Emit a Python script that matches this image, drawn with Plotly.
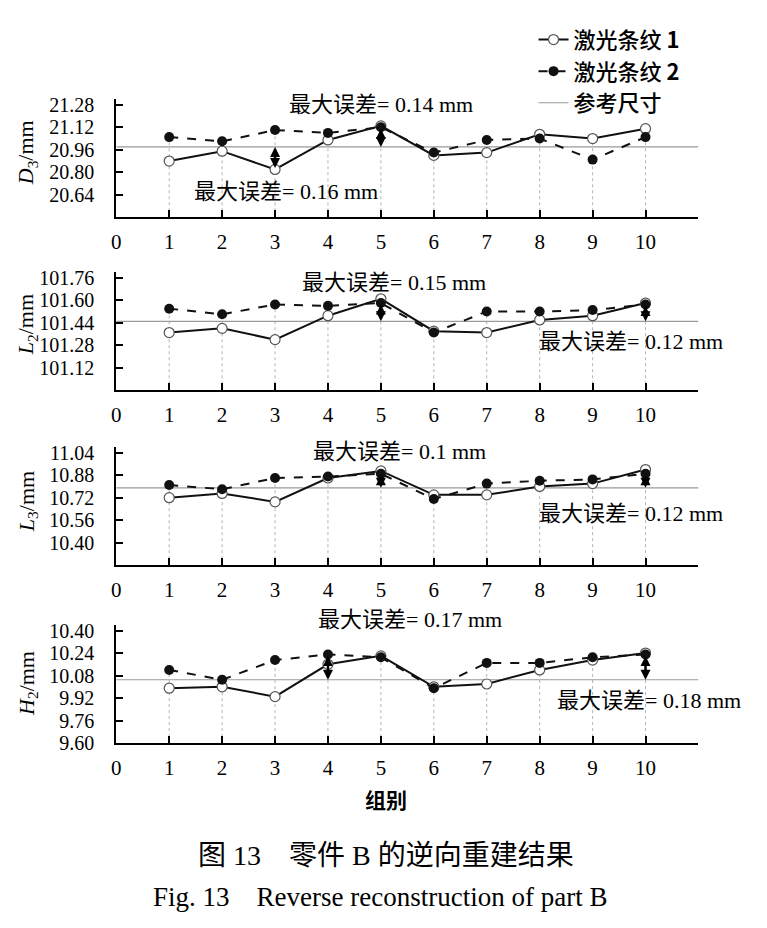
import plotly.graph_objects as go

# ---------------- data ----------------
groups = [1, 2, 3, 4, 5, 6, 7, 8, 9, 10]
x_ticks = [0, 1, 2, 3, 4, 5, 6, 7, 8, 9, 10]

# Panel 1: D3
d3_laser1 = [20.88, 20.95, 20.82, 21.03, 21.13, 20.92, 20.94, 21.07, 21.04, 21.11]
d3_laser2 = [21.05, 21.02, 21.10, 21.08, 21.12, 20.94, 21.03, 21.04, 20.89, 21.05]
d3_ref = 20.98
d3_ticks = [20.64, 20.80, 20.96, 21.12, 21.28]
d3_range = [20.48, 21.32]

# Panel 2: L2
l2_laser1 = [101.37, 101.40, 101.32, 101.49, 101.61, 101.38, 101.37, 101.46, 101.49, 101.58]
l2_laser2 = [101.54, 101.50, 101.57, 101.56, 101.58, 101.37, 101.52, 101.52, 101.53, 101.57]
l2_ref = 101.45
l2_ticks = [101.12, 101.28, 101.44, 101.60, 101.76]
l2_range = [100.96, 101.80]

# Panel 3: L3
l3_laser1 = [10.72, 10.75, 10.69, 10.86, 10.91, 10.74, 10.74, 10.80, 10.82, 10.92]
l3_laser2 = [10.81, 10.78, 10.86, 10.87, 10.89, 10.71, 10.82, 10.84, 10.85, 10.89]
l3_ref = 10.79
l3_ticks = [10.40, 10.56, 10.72, 10.88, 11.04]
l3_range = [10.24, 11.08]

# Panel 4: H2
h2_laser1 = [9.99, 10.00, 9.93, 10.16, 10.22, 10.00, 10.02, 10.12, 10.19, 10.24]
h2_laser2 = [10.12, 10.05, 10.19, 10.23, 10.21, 9.99, 10.17, 10.17, 10.21, 10.23]
h2_ref = 10.05
h2_ticks = [9.60, 9.76, 9.92, 10.08, 10.24, 10.40]
h2_range = [9.60, 10.44]

y_titles = ["<i>D</i><sub>3</sub>/mm", "<i>L</i><sub>2</sub>/mm",
            "<i>L</i><sub>3</sub>/mm", "<i>H</i><sub>2</sub>/mm"]

# (group, series) whose deviation from the reference is marked by an arrow
arrow_marks = [[(3, 1), (5, 2)], [(5, 2), (10, 2)], [(5, 2), (10, 2)], [(4, 2), (10, 2)]]
err_labels = [["最大误差= 0.14 mm", "最大误差= 0.16 mm"],
              ["最大误差= 0.15 mm", "最大误差= 0.12 mm"],
              ["最大误差= 0.1 mm", "最大误差= 0.12 mm"],
              ["最大误差= 0.17 mm", "最大误差= 0.18 mm"]]
legend_names = ["激光条纹 <b>1</b>", "激光条纹 <b>2</b>", "参考尺寸"]
x_title = "组别"
caption_cn = "图 13　零件 B 的逆向重建结果"
caption_en = "Fig. 13　Reverse reconstruction of part B"

panels = [
    (d3_laser1, d3_laser2, d3_ref, d3_ticks, d3_range),
    (l2_laser1, l2_laser2, l2_ref, l2_ticks, l2_range),
    (l3_laser1, l3_laser2, l3_ref, l3_ticks, l3_range),
    (h2_laser1, h2_laser2, h2_ref, h2_ticks, h2_range),
]

# ---------------- layout helpers ----------------
W, H = 767, 928
def px(x):
    return x / W
def py(y):
    return 1 - y / H

SERIF = "Liberation Serif, 'Times New Roman', 'Noto Sans CJK SC', serif"
CJK = "'Noto Sans CJK SC', 'Liberation Serif', sans-serif"

x_dom = [px(112), px(698)]
# (top px, bottom px) of each panel
panel_px = [(95.8, 216), (271.8, 392), (449.8, 570), (630.8, 751)]
err_label_pos = [[(378, 101), (283, 190)],
                 [(392, 282), (630, 342)],
                 [(397, 454), (630, 517)],
                 [(408, 625), (648, 708)]]
ytitle_y = [150, 325, 505, 690]

fig = go.Figure()
annotations = []
layout_axes = {}

for i, (s1, s2, ref, yt, yr) in enumerate(panels):
    n = i + 1
    xa = "x" if n == 1 else f"x{n}"
    ya = "y" if n == 1 else f"y{n}"
    show = (n == 1)

    # drop lines
    dx, dy = [], []
    for g, a, b in zip(groups, s1, s2):
        dx += [g, g, None]
        dy += [yr[0], max(a, b), None]
    fig.add_trace(go.Scatter(x=dx, y=dy, mode="lines", xaxis=xa, yaxis=ya,
                             line=dict(color="#b4b4b4", width=1, dash="dot"),
                             showlegend=False, hoverinfo="skip"))
    # reference line
    fig.add_trace(go.Scatter(x=[0, 11], y=[ref, ref], mode="lines", xaxis=xa, yaxis=ya,
                             line=dict(color="#9a9a9a", width=1.2),
                             name=legend_names[2], showlegend=show, legendrank=3))
    # laser 1
    fig.add_trace(go.Scatter(x=groups, y=s1, mode="lines+markers", xaxis=xa, yaxis=ya,
                             line=dict(color="#111111", width=2),
                             marker=dict(symbol="circle", size=10, color="white",
                                         line=dict(color="#555555", width=1.2)),
                             name=legend_names[0], showlegend=show, legendrank=1))
    # laser 2
    fig.add_trace(go.Scatter(x=groups, y=s2, mode="lines+markers", xaxis=xa, yaxis=ya,
                             line=dict(color="#111111", width=2, dash="dash"),
                             marker=dict(symbol="circle", size=10, color="#111111"),
                             name=legend_names[1], showlegend=show, legendrank=2))

    top, bot = panel_px[i]
    layout_axes["xaxis" if n == 1 else f"xaxis{n}"] = dict(
        domain=x_dom, range=[0, 11], anchor=ya, tickvals=x_ticks,
        ticktext=[str(v) for v in x_ticks], ticks="inside", ticklen=7, tickwidth=2,
        tickcolor="black", showline=True, linewidth=2, linecolor="black",
        showgrid=False, zeroline=False, ticklabelstandoff=5,
        tickfont=dict(family=SERIF, size=21, color="black"))
    layout_axes["yaxis" if n == 1 else f"yaxis{n}"] = dict(
        domain=[py(bot), py(top)], range=yr, anchor=xa, tickvals=yt,
        ticktext=[f"{v:.2f}" for v in yt], ticks="inside", ticklen=7, tickwidth=2,
        tickcolor="black", showline=True, linewidth=2, linecolor="black",
        showgrid=False, zeroline=False, ticklabelstandoff=16,
        tickfont=dict(family=SERIF, size=20, color="black"))

    # arrows
    for g, sidx in arrow_marks[i]:
        val = (s1 if sidx == 1 else s2)[groups.index(g)]
        annotations.append(dict(x=g, y=ref, ax=g, ay=val, xref=xa, yref=ya,
                                axref=xa, ayref=ya, text="", showarrow=True,
                                arrowhead=2, startarrowhead=2, arrowside="end+start",
                                arrowsize=0.8, startarrowsize=0.8, arrowwidth=2.5,
                                arrowcolor="black", standoff=0, startstandoff=0))
    # error labels
    for txt, (tx, ty) in zip(err_labels[i], err_label_pos[i]):
        annotations.append(dict(x=px(tx), y=py(ty), xref="paper", yref="paper",
                                text=txt, showarrow=False, xanchor="center",
                                yanchor="middle",
                                font=dict(family=SERIF, size=22, color="black")))
    # y title
    annotations.append(dict(x=px(23), y=py(ytitle_y[i]), xref="paper", yref="paper",
                            text=y_titles[i], showarrow=False, textangle=-90,
                            xanchor="center", yanchor="middle",
                            font=dict(family=SERIF, size=22, color="black")))

annotations.append(dict(x=px(383), y=py(808), xref="paper", yref="paper", text=x_title,
                        showarrow=False, xanchor="center", yanchor="middle",
                        font=dict(family=CJK, size=21, color="black", weight="bold")))
annotations.append(dict(x=px(384), y=py(865), xref="paper", yref="paper", text=caption_cn,
                        showarrow=False, xanchor="center", yanchor="middle",
                        font=dict(family=SERIF, size=28, color="black")))
annotations.append(dict(x=px(377), y=py(908), xref="paper", yref="paper", text=caption_en,
                        showarrow=False, xanchor="center", yanchor="middle",
                        font=dict(family=SERIF, size=27, color="black")))

fig.update_layout(
    width=W, height=H, margin=dict(l=0, r=0, t=0, b=0),
    paper_bgcolor="white", plot_bgcolor="white",
    showlegend=True,
    legend=dict(x=px(532), y=py(14), xanchor="left", yanchor="top",
                bgcolor="rgba(0,0,0,0)", borderwidth=0, tracegroupgap=0,
                font=dict(family=CJK, size=22, color="black", weight=500)),
    annotations=annotations,
    **layout_axes,
)

fig.write_html("out.html")
